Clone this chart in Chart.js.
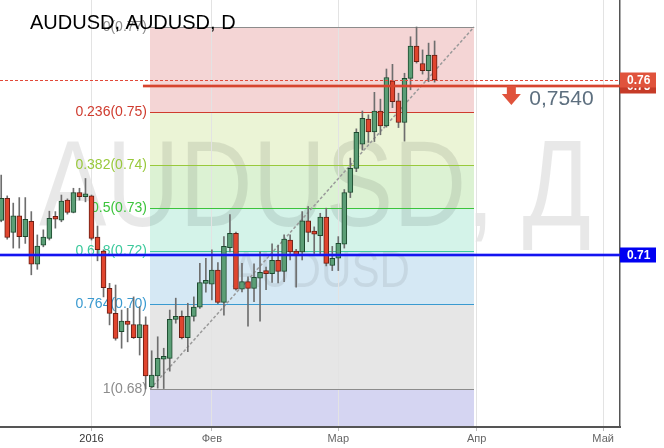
<!DOCTYPE html>
<html>
<head>
<meta charset="utf-8">
<script src="https://cdn.jsdelivr.net/npm/chart.js@4.4.1/dist/chart.umd.min.js"></script>
<style>
  html, body { margin: 0; padding: 0; background: #fff; }
  canvas { display: block; }
</style>
</head>
<body>
<canvas id="chart" width="664" height="448"></canvas>
<script>
// AUDUSD daily candles, mid Dec 2015 .. late Mar 2016 (index 0 = 4 Jan 2016, weekends skipped)
var firstIndex = -15;
var opens = [0.7224, 0.7276, 0.7196, 0.7235, 0.7186, 0.7222, 0.7121, 0.7166, 0.7182, 0.7231,
  0.7225, 0.7272, 0.7243, 0.7290, 0.7280, 0.7282, 0.7185, 0.7152, 0.7064, 0.7005,
  0.6962, 0.6987, 0.6979, 0.6948, 0.6978, 0.6832, 0.6858, 0.6897, 0.6899, 0.6991,
  0.6998, 0.6948, 0.6998, 0.7020, 0.7076, 0.7074, 0.7107, 0.7031, 0.7160, 0.7194,
  0.7062, 0.7080, 0.7064, 0.7088, 0.7102, 0.7099, 0.7130, 0.7104, 0.7178, 0.7152,
  0.7150, 0.7223, 0.7196, 0.7188, 0.7232, 0.7118, 0.7135, 0.7168, 0.7290, 0.7347,
  0.7404, 0.7463, 0.7433, 0.7482, 0.7447, 0.7553, 0.7506, 0.7455, 0.7559, 0.7635,
  0.7594, 0.7577, 0.7614];
var highs = [0.7331, 0.7282, 0.7265, 0.7278, 0.7278, 0.7245, 0.7190, 0.7202, 0.7246, 0.7245,
  0.7284, 0.7275, 0.7300, 0.7300, 0.7323, 0.7284, 0.7211, 0.7155, 0.7076, 0.7072,
  0.7013, 0.7017, 0.7044, 0.7021, 0.6997, 0.6917, 0.6950, 0.6923, 0.7013, 0.7041,
  0.7011, 0.7029, 0.7044, 0.7123, 0.7135, 0.7155, 0.7125, 0.7186, 0.7238, 0.7197,
  0.7123, 0.7091, 0.7122, 0.7150, 0.7114, 0.7169, 0.7166, 0.7190, 0.7190, 0.7156,
  0.7245, 0.7257, 0.7209, 0.7241, 0.7253, 0.7163, 0.7186, 0.7297, 0.7371, 0.7440,
  0.7482, 0.7473, 0.7526, 0.7510, 0.7581, 0.7592, 0.7524, 0.7571, 0.7657, 0.7680,
  0.7626, 0.7642, 0.7647];
var lows = [0.7221, 0.7180, 0.7159, 0.7159, 0.7170, 0.7096, 0.7109, 0.7162, 0.7178, 0.7206,
  0.7221, 0.7239, 0.7242, 0.7272, 0.7268, 0.7178, 0.7129, 0.7044, 0.6978, 0.6942,
  0.6923, 0.6938, 0.6946, 0.6907, 0.6827, 0.6830, 0.6829, 0.6828, 0.6869, 0.6982,
  0.6945, 0.6915, 0.6987, 0.7017, 0.7055, 0.7037, 0.7028, 0.7001, 0.7150, 0.7060,
  0.7056, 0.6975, 0.7033, 0.6987, 0.7061, 0.7078, 0.7077, 0.7080, 0.7131, 0.7067,
  0.7131, 0.7174, 0.7145, 0.7144, 0.7117, 0.7106, 0.7106, 0.7159, 0.7278, 0.7339,
  0.7390, 0.7408, 0.7410, 0.7426, 0.7444, 0.7490, 0.7443, 0.7411, 0.7532, 0.7595,
  0.7569, 0.7551, 0.7550];
var closes = [0.7276, 0.7184, 0.7235, 0.7186, 0.7227, 0.7121, 0.7164, 0.7185, 0.7229, 0.7227,
  0.7270, 0.7243, 0.7290, 0.7280, 0.7286, 0.7182, 0.7155, 0.7066, 0.7005, 0.6946,
  0.6987, 0.6979, 0.6948, 0.6979, 0.6858, 0.6860, 0.6899, 0.6900, 0.6991, 0.6998,
  0.6948, 0.6998, 0.7020, 0.7078, 0.7082, 0.7107, 0.7031, 0.7163, 0.7194, 0.7062,
  0.7080, 0.7064, 0.7090, 0.7102, 0.7099, 0.7130, 0.7104, 0.7180, 0.7150, 0.7142,
  0.7223, 0.7196, 0.7192, 0.7232, 0.7123, 0.7135, 0.7170, 0.7290, 0.7347, 0.7432,
  0.7465, 0.7433, 0.7482, 0.7447, 0.7561, 0.7504, 0.7455, 0.7559, 0.7635, 0.7598,
  0.7577, 0.7614, 0.7555];

// month starts on the bar index axis
var monthTicks = [0, 20, 41, 64, 85];
var monthLabels = ['2016', 'Фев', 'Мар', 'Апр', 'Май'];

// fibonacci retracement from the January low to the March high
var fibHigh = 0.7680;
var fibLow = 0.6827;
var fibFrom = 9.75;
var fibTo = 63.55;
var fibRatios = [0, 0.236, 0.382, 0.5, 0.618, 0.764, 1, 1.618];
var fibLineColors = ['#8c8c8c', '#cf3b2e', '#99c93c', '#3cc43c', '#3cc99c', '#3a9ad0', '#8c8c8c'];
var fibFillColors = ['#f4d5d5', '#ebf4d6', '#dcf2d3', '#d4f3e9', '#d5e8f4', '#e6e6e6', '#d5d5f2'];

// horizontal levels
var redLevel = 0.7540;
var redLevelFrom = 8.55;
var blueLevel = 0.7143;

var FONT = '"Liberation Sans", Arial, sans-serif';

function fibPrice(r) { return fibHigh - r * (fibHigh - fibLow); }

function stretchedText(ctx, text, cx, baseline, font, width) {
  ctx.save();
  ctx.font = font;
  var w = ctx.measureText(text).width;
  ctx.translate(cx, baseline);
  ctx.scale(width / w, 1);
  ctx.textAlign = 'center';
  ctx.textBaseline = 'alphabetic';
  ctx.fillText(text, 0, 0);
  ctx.restore();
}

function priceBox(ctx, left, y, text, bg) {
  ctx.fillStyle = bg;
  ctx.fillRect(left, Math.round(y) - 7.5, 36, 15);
  ctx.fillStyle = '#fff';
  ctx.font = 'bold 12px ' + FONT;
  ctx.textAlign = 'left';
  ctx.textBaseline = 'middle';
  ctx.fillText(text, left + 7, Math.round(y) + 0.5);
}

var drawings = {
  id: 'drawings',
  beforeDraw: function(chart) {
    var ctx = chart.ctx, a = chart.chartArea, xs = chart.scales.x, ys = chart.scales.y;
    ctx.save();
    ctx.beginPath();
    ctx.rect(a.left, a.top, a.right - a.left, a.bottom - a.top);
    ctx.clip();
    var x0 = xs.getPixelForValue(fibFrom), x1 = xs.getPixelForValue(fibTo);
    for (var i = 0; i < fibRatios.length - 1; i++) {
      var ya = Math.round(ys.getPixelForValue(fibPrice(fibRatios[i])));
      var yb = Math.round(ys.getPixelForValue(fibPrice(fibRatios[i + 1])));
      ctx.fillStyle = fibFillColors[i];
      ctx.fillRect(Math.round(x0), ya, Math.round(x1 - x0), yb - ya);
    }
    ctx.fillStyle = 'rgba(0,0,0,0.09)';
    stretchedText(ctx, 'AUDUSD, Д', 315, 226, '122px ' + FONT, 552);
    ctx.fillStyle = 'rgba(0,0,0,0.07)';
    stretchedText(ctx, 'AUDUSD', 321, 287, '50px ' + FONT, 178);
    ctx.restore();
  },
  beforeDatasetsDraw: function(chart) {
    var ctx = chart.ctx, xs = chart.scales.x, ys = chart.scales.y;
    var x0 = Math.round(xs.getPixelForValue(fibFrom)), x1 = Math.round(xs.getPixelForValue(fibTo));
    ctx.save();
    ctx.font = '14px ' + FONT;
    ctx.textAlign = 'right';
    ctx.textBaseline = 'middle';
    for (var i = 0; i < fibLineColors.length; i++) {
      var r = fibRatios[i], p = fibPrice(r);
      var y = Math.round(ys.getPixelForValue(p)) + 0.5;
      ctx.strokeStyle = fibLineColors[i];
      ctx.lineWidth = 1;
      ctx.beginPath();
      ctx.moveTo(x0, y);
      ctx.lineTo(x1, y);
      ctx.stroke();
      ctx.fillStyle = fibLineColors[i];
      ctx.fillText(r + '(' + p.toFixed(2) + ')', x0 - 3, y);
    }
    // trend line low -> high
    ctx.strokeStyle = '#9a9a9a';
    ctx.lineWidth = 1.5;
    ctx.setLineDash([3, 2]);
    ctx.beginPath();
    ctx.moveTo(xs.getPixelForValue(fibFrom), ys.getPixelForValue(fibLow));
    ctx.lineTo(xs.getPixelForValue(fibTo), ys.getPixelForValue(fibHigh));
    ctx.stroke();
    ctx.restore();
  },
  afterDatasetsDraw: function(chart) {
    var ctx = chart.ctx, a = chart.chartArea, xs = chart.scales.x, ys = chart.scales.y;
    var lastClose = closes[closes.length - 1];
    ctx.save();
    // last price line
    var yl = Math.round(ys.getPixelForValue(lastClose)) + 0.5;
    ctx.strokeStyle = '#e2493a';
    ctx.lineWidth = 1;
    ctx.setLineDash([3, 2]);
    ctx.beginPath();
    ctx.moveTo(a.left, yl);
    ctx.lineTo(a.right, yl);
    ctx.stroke();
    ctx.setLineDash([]);
    // red horizontal level
    var yr = Math.round(ys.getPixelForValue(redLevel));
    var xr = xs.getPixelForValue(redLevelFrom);
    ctx.strokeStyle = 'rgba(217,71,47,0.35)';
    ctx.lineWidth = 4;
    ctx.beginPath(); ctx.moveTo(xr, yr); ctx.lineTo(a.right, yr); ctx.stroke();
    ctx.strokeStyle = '#d6452f';
    ctx.lineWidth = 2;
    ctx.beginPath(); ctx.moveTo(xr, yr); ctx.lineTo(a.right, yr); ctx.stroke();
    // blue horizontal level
    var yb = Math.round(ys.getPixelForValue(blueLevel));
    ctx.strokeStyle = 'rgba(40,40,255,0.35)';
    ctx.lineWidth = 4;
    ctx.beginPath(); ctx.moveTo(a.left, yb); ctx.lineTo(a.right, yb); ctx.stroke();
    ctx.strokeStyle = '#1414f0';
    ctx.lineWidth = 2;
    ctx.beginPath(); ctx.moveTo(a.left, yb); ctx.lineTo(a.right, yb); ctx.stroke();
    ctx.restore();
  },
  afterDraw: function(chart) {
    var ctx = chart.ctx, a = chart.chartArea, xs = chart.scales.x, ys = chart.scales.y;
    var lastClose = closes[closes.length - 1];
    ctx.save();
    // price labels on the right axis
    priceBox(ctx, a.right, ys.getPixelForValue(redLevel), redLevel.toFixed(2), '#c63b28');
    priceBox(ctx, a.right, ys.getPixelForValue(lastClose), lastClose.toFixed(2), '#e0533c');
    priceBox(ctx, a.right, ys.getPixelForValue(blueLevel), blueLevel.toFixed(2), '#0000f2');
    // arrow + level note
    var ax = xs.getPixelForValue(69.75), ay = ys.getPixelForValue(0.7520);
    ctx.fillStyle = '#e0533c';
    ctx.beginPath();
    ctx.moveTo(ax - 4.5, ay - 9);
    ctx.lineTo(ax + 4.5, ay - 9);
    ctx.lineTo(ax + 4.5, ay - 1);
    ctx.lineTo(ax + 9.5, ay - 1);
    ctx.lineTo(ax, ay + 10);
    ctx.lineTo(ax - 9.5, ay - 1);
    ctx.lineTo(ax - 4.5, ay - 1);
    ctx.closePath();
    ctx.fill();
    ctx.fillStyle = '#5d6f7f';
    ctx.font = '21px ' + FONT;
    ctx.textAlign = 'left';
    ctx.textBaseline = 'alphabetic';
    ctx.fillText(redLevel.toFixed(4).replace('.', ','), ax + 18, ay + 10);
    // title
    ctx.fillStyle = '#000';
    ctx.font = '20px ' + FONT;
    ctx.fillText('AUDUSD, AUDUSD, D', 30, 29);
    ctx.restore();
  }
};

var candleX = opens.map(function(o, i) { return firstIndex + i; });
var rising = closes.map(function(c, i) { return c >= opens[i]; });

new Chart(document.getElementById('chart'), {
  type: 'bar',
  data: {
    datasets: [
      {
        label: 'body',
        data: candleX.map(function(x, i) { return { x: x, y: [opens[i], closes[i]] }; }),
        order: 1,
        grouped: false,
        barThickness: 5,
        minBarLength: 3,
        borderWidth: 1,
        borderSkipped: false,
        backgroundColor: rising.map(function(u) { return u ? '#5b9e76' : '#e0452e'; }),
        borderColor: rising.map(function(u) { return u ? '#1c4a2e' : '#6a1d13'; })
      },
      {
        label: 'wick',
        data: candleX.map(function(x, i) { return { x: x, y: [lows[i], highs[i]] }; }),
        order: 2,
        grouped: false,
        barThickness: 1,
        borderWidth: 0,
        backgroundColor: '#6e6e6e'
      }
    ]
  },
  options: {
    responsive: false,
    animation: false,
    layout: { padding: 0 },
    plugins: { legend: { display: false }, tooltip: { enabled: false } },
    scales: {
      x: {
        type: 'linear',
        min: -15.2,
        max: 87.8,
        offset: false,
        afterBuildTicks: function(s) { s.ticks = monthTicks.map(function(v) { return { value: v }; }); },
        afterFit: function(s) { s.height = 21; },
        grid: { offset: false, color: '#e3e3e3', tickLength: 4, tickColor: '#bbb' },
        border: { color: '#555', width: 2 },
        ticks: {
          autoSkip: false,
          maxRotation: 0,
          padding: 1,
          font: { size: 11, family: FONT },
          color: function(c) { return c.tick && c.tick.value === 0 ? '#333' : '#666'; },
          callback: function(v) { return monthLabels[monthTicks.indexOf(v)]; }
        }
      },
      y: {
        position: 'right',
        min: 0.67374,
        max: 0.77436,
        afterFit: function(s) { s.width = 44; },
        ticks: { display: false },
        grid: { display: false },
        border: { color: '#555', width: 1.5 }
      }
    }
  },
  plugins: [drawings]
});
</script>
</body>
</html>
